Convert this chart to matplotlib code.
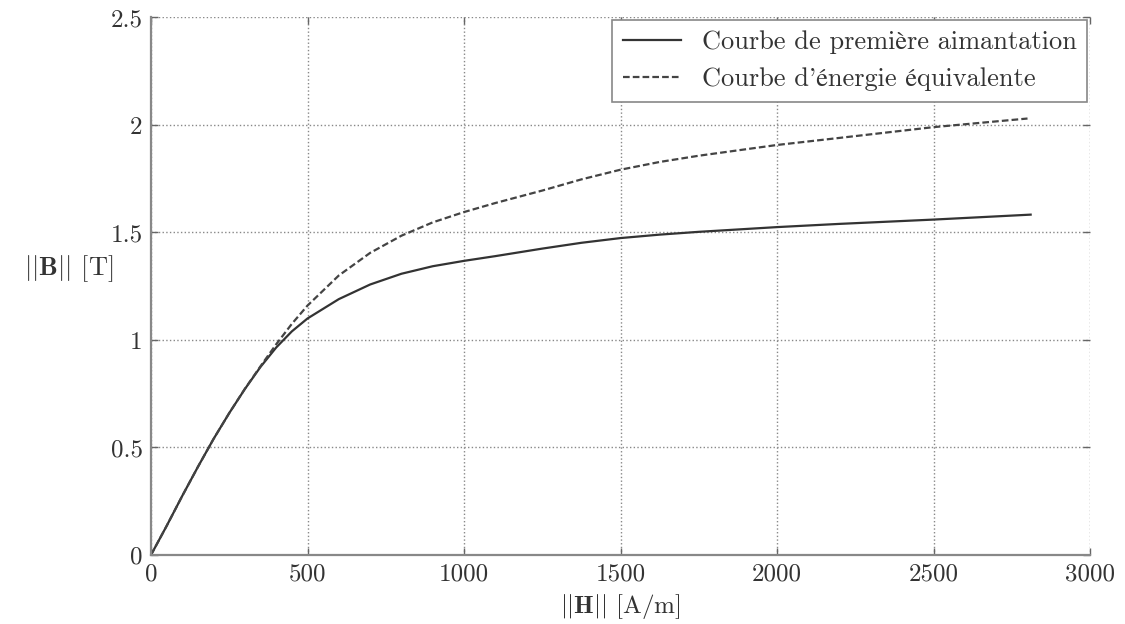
import matplotlib
matplotlib.use("Agg")
import matplotlib.pyplot as plt

plt.rcParams['font.family'] = ['cmr10', 'STIXGeneral', 'DejaVu Serif']
plt.rcParams['mathtext.fontset'] = 'cm'
plt.rcParams['axes.unicode_minus'] = False
plt.rcParams['axes.formatter.use_mathtext'] = True

# H field [A/m] and B [T]
h_first = [0, 50, 100, 150, 200, 250, 300, 350, 400, 450, 500, 600, 700, 800,
           900, 1000, 1100, 1250, 1375, 1500, 1625, 1750, 2000, 2200, 2500, 2810]
b_first = [0, 0.135, 0.275, 0.41, 0.54, 0.66, 0.772, 0.875, 0.965, 1.04, 1.10,
           1.19, 1.258, 1.308, 1.343, 1.368, 1.39, 1.425, 1.452, 1.474, 1.49,
           1.503, 1.525, 1.54, 1.56, 1.583]

h_equiv = [0, 50, 100, 150, 200, 250, 300, 350, 400, 450, 500, 600, 700, 800,
           900, 1000, 1100, 1250, 1375, 1500, 1625, 1750, 2000, 2200, 2500, 2800]
b_equiv = [0, 0.135, 0.275, 0.41, 0.54, 0.66, 0.773, 0.878, 0.98, 1.075, 1.16,
           1.30, 1.405, 1.485, 1.547, 1.595, 1.637, 1.695, 1.747, 1.792, 1.828,
           1.857, 1.907, 1.94, 1.99, 2.03]

xticks = [0, 500, 1000, 1500, 2000, 2500, 3000]
yticks = [0, 0.5, 1, 1.5, 2, 2.5]
ytick_labels = ['0', '0.5', '1', '1.5', '2', '2.5']

fig = plt.figure(figsize=(11.25, 6.24), dpi=100)
ax = fig.add_axes([0.1342, 0.1106, 0.969 - 0.1342, 0.972 - 0.1106])

ax.plot(h_first, b_first, color='#333333', lw=1.6, label='Courbe de première aimantation')
ax.plot(h_equiv, b_equiv, color='#444444', lw=1.6, linestyle=(0, (3, 1.4)),
        label="Courbe d'énergie équivalente")

ax.set_xlim(0, 3000)
ax.set_ylim(0, 2.5)
ax.set_xticks(xticks)
ax.set_xticklabels([str(t) for t in xticks])
ax.set_yticks(yticks)
ax.set_yticklabels(ytick_labels)

ax.grid(True, linestyle=':', color='#888888', lw=1.0)
for side in ['top', 'right']:
    ax.spines[side].set_visible(False)
for side in ['left', 'bottom']:
    ax.spines[side].set_color('#888888')
    ax.spines[side].set_linewidth(1.6)

ax.tick_params(direction='in', length=5, width=1.0, color='#666666',
               labelsize=18, labelcolor='#333333', top=True, right=True, pad=6)

ax.set_xlabel(r'$||\mathbf{H}||$ [A/m]', fontsize=18, color='#333333', labelpad=5)
ax.set_ylabel(r'$||\mathbf{B}||$ [T]', fontsize=19, color='#333333', rotation=0,
              labelpad=0)
ax.yaxis.set_label_coords(-0.088, 0.505)

leg = ax.legend(loc='upper right', fontsize=19, fancybox=False, framealpha=1,
                edgecolor='#888888', handlelength=2.2, borderaxespad=0.1,
                labelcolor='#333333')
leg.get_frame().set_linewidth(1.2)

fig.savefig('out.png', dpi=100)
